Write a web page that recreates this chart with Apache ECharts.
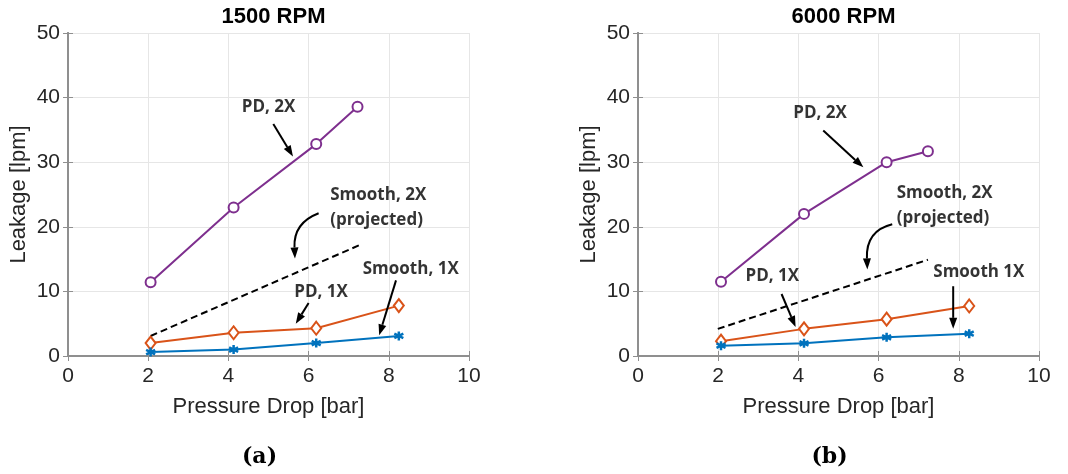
<!DOCTYPE html>
<html><head><meta charset="utf-8">
<script src="https://cdn.jsdelivr.net/npm/echarts@6/dist/echarts.min.js"></script>
<style>html,body{margin:0;padding:0;background:#fff}#c{width:1068px;height:474px}</style>
</head><body><div id="c"></div>
<script>
// ---------- data ----------
const panelTitles = ['1500 RPM', '6000 RPM'];
const panelCaptions = ['(a)', '(b)'];
const xTicks = [0, 2, 4, 6, 8, 10];
const yTicks = [0, 10, 20, 30, 40, 50];

// 1500 RPM
const a_pd2x = [[2.06, 11.4], [4.13, 23.0], [6.19, 32.8], [7.22, 38.6]];
const a_pd1x = [[2.06, 2.0], [4.13, 3.6], [6.19, 4.3], [8.25, 7.8]];
const a_sm1x = [[2.06, 0.6], [4.13, 1.0], [6.19, 2.0], [8.25, 3.1]];
const a_sm2x = [[2.06, 3.1], [7.32, 17.3]];
// 6000 RPM
const b_pd2x = [[2.07, 11.5], [4.14, 22.0], [6.20, 30.0], [7.23, 31.7]];
const b_pd1x = [[2.07, 2.3], [4.14, 4.2], [6.20, 5.7], [8.26, 7.75]];
const b_sm1x = [[2.07, 1.6], [4.14, 1.96], [6.20, 2.9], [8.26, 3.45]];
const b_sm2x = [[1.99, 4.2], [7.23, 14.9]];

// annotations: text labels [x, y, text, align]
const a_labels = [[5.0, 38.5, 'PD, 2X', 'center'], [6.54, 24.9, 'Smooth, 2X', 'left'], [6.54, 21.0, '(projected)', 'left'], [7.35, 13.4, 'Smooth, 1X', 'left'], [6.31, 9.9, 'PD, 1X', 'center']];
const b_labels = [[4.54, 37.6, 'PD, 2X', 'center'], [6.45, 25.2, 'Smooth, 2X', 'left'], [6.45, 21.3, '(projected)', 'left'], [8.50, 13.0, 'Smooth 1X', 'center'], [3.35, 12.4, 'PD, 1X', 'center']];
// arrows [x1, y1, x2, y2, curved(0/1), ctrlX, ctrlY]
const a_arrows = [[5.12, 35.9, 5.61, 30.9, 0, 0, 0], [6.25, 22.1, 5.66, 15.1, 1, 5.62, 20.6], [8.18, 11.7, 7.76, 3.2, 0, 0, 0], [6.0, 8.2, 5.68, 5.0, 0, 0, 0]];
const b_arrows = [[4.62, 34.9, 5.62, 29.2, 0, 0, 0], [6.34, 20.4, 5.72, 13.4, 1, 5.68, 19.4], [7.86, 10.8, 7.86, 4.2, 0, 0, 0], [3.58, 9.6, 3.93, 4.5, 0, 0, 0]];

const panels = [
  {pd2x: a_pd2x, pd1x: a_pd1x, sm1x: a_sm1x, sm2x: a_sm2x, labels: a_labels, arrows: a_arrows},
  {pd2x: b_pd2x, pd1x: b_pd1x, sm1x: b_sm1x, sm2x: b_sm2x, labels: b_labels, arrows: b_arrows}
];

// ---------- styling ----------
const FRAME = '#8f8f8f';
const TXT = '#262626';
const gridLefts = [68, 638];
const gridW = 401, gridTop = 33, gridH = 323;
const asterisk = 'path://M0,-5L0,5M-4.33,-2.5L4.33,2.5M-4.33,2.5L4.33,-2.5';

const option = {
  animation: false,
  backgroundColor: '#fff',
  title: [],
  grid: [], xAxis: [], yAxis: [], series: []
};

panels.forEach((p, i) => {
  const cx = gridLefts[i] + gridW / 2;
  option.title.push({text: panelTitles[i], left: cx, top: 1, textAlign: 'center',
    textStyle: {fontFamily: 'Liberation Sans', fontWeight: 'bold', fontSize: 22, color: '#000'}});
  option.title.push({text: panelCaptions[i], left: cx - 14, top: 441, textAlign: 'center',
    textStyle: {fontFamily: 'DejaVu Serif', fontWeight: 'bold', fontSize: 22, color: '#000'}});
  option.grid.push({left: gridLefts[i], top: gridTop, width: gridW, height: gridH});
  const axLine = {show: true, lineStyle: {color: FRAME, width: 2}};
  const tick = {show: true, inside: true, length: 5, lineStyle: {color: FRAME, width: 1}};
  option.xAxis.push({type: 'value', gridIndex: i, min: xTicks[0], max: xTicks[xTicks.length - 1], interval: xTicks[1] - xTicks[0],
    name: 'Pressure Drop [bar]', nameLocation: 'middle', nameGap: 40,
    nameTextStyle: {fontFamily: 'Liberation Sans', fontSize: 22, color: TXT},
    axisLine: axLine, axisTick: tick,
    axisLabel: {margin: 10, fontFamily: 'Liberation Sans', fontSize: 21, color: TXT},
    splitLine: {show: true, lineStyle: {color: '#e6e6e6', width: 1}}});
  option.xAxis.push({type: 'value', gridIndex: i, position: 'top', min: xTicks[0], max: xTicks[xTicks.length - 1], interval: xTicks[1] - xTicks[0],
    axisLine: axLine, axisTick: tick, axisLabel: {show: false}, splitLine: {show: false}});
  option.yAxis.push({type: 'value', gridIndex: i, min: yTicks[0], max: yTicks[yTicks.length - 1], interval: yTicks[1] - yTicks[0],
    name: 'Leakage [lpm]', nameLocation: 'middle', nameGap: 38,
    nameTextStyle: {fontFamily: 'Liberation Sans', fontSize: 22, color: TXT},
    axisLine: axLine, axisTick: tick,
    axisLabel: {margin: 8, fontFamily: 'Liberation Sans', fontSize: 21, color: TXT},
    splitLine: {show: true, lineStyle: {color: '#e6e6e6', width: 1}}});
  option.yAxis.push({type: 'value', gridIndex: i, position: 'right', min: yTicks[0], max: yTicks[yTicks.length - 1], interval: yTicks[1] - yTicks[0],
    axisLine: axLine, axisTick: tick, axisLabel: {show: false}, splitLine: {show: false}});

  const xi = i * 2, yi = i * 2;
  option.series.push({type: 'line', xAxisIndex: xi, yAxisIndex: yi, data: p.sm2x, symbol: 'none',
    lineStyle: {color: '#000', width: 2, type: [7, 4]}, z: 3});
  option.series.push({type: 'line', xAxisIndex: xi, yAxisIndex: yi, data: p.pd2x, symbol: 'circle', symbolSize: 10,
    lineStyle: {color: '#7E2F8E', width: 2}, itemStyle: {color: '#fff', borderColor: '#7E2F8E', borderWidth: 2}, z: 4});
  option.series.push({type: 'line', xAxisIndex: xi, yAxisIndex: yi, data: p.pd1x, symbol: 'diamond', symbolSize: [10, 13],
    lineStyle: {color: '#D95319', width: 2}, itemStyle: {color: '#fff', borderColor: '#D95319', borderWidth: 2}, z: 4});
  option.series.push({type: 'line', xAxisIndex: xi, yAxisIndex: yi, data: p.sm1x, symbol: asterisk, symbolSize: 9,
    lineStyle: {color: '#0072BD', width: 2}, itemStyle: {color: 'none', borderColor: '#0072BD', borderWidth: 2.5}, z: 4});
  // annotation texts
  option.series.push({type: 'scatter', xAxisIndex: xi, yAxisIndex: yi, symbolSize: 0, z: 6,
    data: p.labels.map(l => ({value: [l[0], l[1]], name: l[2],
      label: {show: true, position: 'inside', formatter: '{b}', align: l[3],
        fontFamily: 'Open Sans', fontWeight: 'bold', fontSize: 17, color: '#000'}}))});
  // arrows
  option.series.push({type: 'custom', xAxisIndex: xi, yAxisIndex: yi, z: 7, silent: true,
    data: p.arrows,
    renderItem: function (params, api) {
      const s = api.coord([api.value(0), api.value(1)]);
      const e = api.coord([api.value(2), api.value(3)]);
      const curved = api.value(4) === 1;
      let c = null, from = s;
      if (curved) { c = api.coord([api.value(5), api.value(6)]); from = c; }
      const dx = e[0] - from[0], dy = e[1] - from[1];
      const L = Math.sqrt(dx * dx + dy * dy) || 1;
      const ux = dx / L, uy = dy / L;
      const hl = 11, hw = 4;
      const bx = e[0] - ux * hl, by = e[1] - uy * hl;
      const head = {type: 'polygon', shape: {points: [[e[0], e[1]], [bx - uy * hw, by + ux * hw], [bx + uy * hw, by - ux * hw]]},
        style: {fill: '#000'}};
      let body;
      if (curved) {
        body = {type: 'bezierCurve', shape: {x1: s[0], y1: s[1], x2: bx, y2: by, cpx1: c[0], cpy1: c[1]},
          style: {stroke: '#000', lineWidth: 2, fill: null}};
      } else {
        body = {type: 'line', shape: {x1: s[0], y1: s[1], x2: bx, y2: by}, style: {stroke: '#000', lineWidth: 2}};
      }
      return {type: 'group', children: [body, head]};
    }});
});

const chart = echarts.init(document.getElementById('c'), null, {renderer: 'canvas'});
chart.setOption(option);
</script></body></html>
